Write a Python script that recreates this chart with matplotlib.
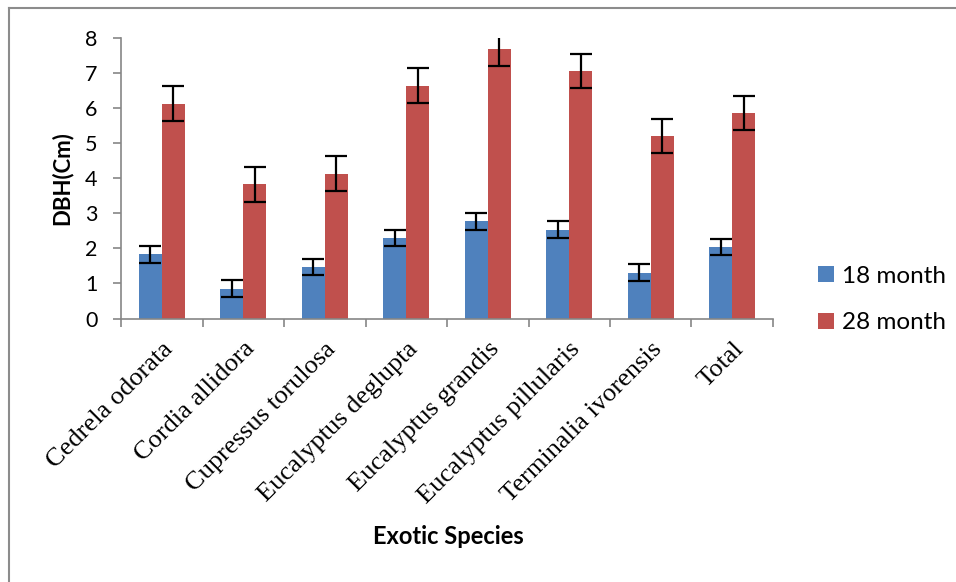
import numpy as np
import matplotlib.pyplot as plt
from matplotlib.lines import Line2D

# data
species = ["Cedrela odorata", "Cordia allidora", "Cupressus torulosa",
           "Eucalyptus deglupta", "Eucalyptus grandis", "Eucalyptus pillularis",
           "Terminalia ivorensis", "Total"]
dbh_18 = [1.83, 0.85, 1.47, 2.30, 2.78, 2.54, 1.31, 2.04]
err_18 = [0.24, 0.24, 0.24, 0.23, 0.24, 0.24, 0.25, 0.23]
dbh_28 = [6.13, 3.83, 4.13, 6.65, 7.69, 7.07, 5.22, 5.87]
err_28 = [0.50, 0.49, 0.50, 0.49, 0.49, 0.48, 0.49, 0.48]

blue = "#4F81BD"
red = "#C0504D"
grey = "#868686"
sans = ["Lato", "DejaVu Sans"]

fig = plt.figure(figsize=(9.56, 5.82), dpi=100)
ax = fig.add_axes([121 / 956, 1 - 318.5 / 582, (773 - 121) / 956, (318.5 - 38.3) / 582])

x = np.arange(len(species))
w = 0.285
ekw = dict(ecolor="black", elinewidth=1.6, capsize=8, capthick=1.6)
ax.bar(x - w / 2, dbh_18, w, color=blue, yerr=err_18, error_kw=ekw, label="18 month")
ax.bar(x + w / 2, dbh_28, w, color=red, yerr=err_28, error_kw=ekw, label="28 month")

ax.set_xlim(-0.5, len(species) - 0.5)
ax.set_ylim(0, 8)
ax.set_yticks(range(0, 9))
ax.tick_params(axis="y", length=6, color=grey, width=1.2, labelsize=15.5, pad=11)
for t in ax.get_yticklabels():
    t.set_fontfamily(sans)

ax.set_xticks(x)
ax.set_xticklabels(species, rotation=45, ha="right", rotation_mode="anchor",
                   fontfamily="Liberation Serif", fontsize=19)
ax.tick_params(axis="x", which="major", length=0, pad=14)
ax.set_xticks(np.arange(len(species) + 1) - 0.5, minor=True)
ax.tick_params(axis="x", which="minor", length=6, color=grey, width=1.2)

for s in ["top", "right"]:
    ax.spines[s].set_visible(False)
for s in ["left", "bottom"]:
    ax.spines[s].set_color(grey)
    ax.spines[s].set_linewidth(1.2)

ax.set_ylabel("DBH(Cm)", fontsize=16, fontweight="bold", fontfamily=sans, labelpad=9)
fig.text(448 / 956, 1 - 537 / 582, "Exotic Species", ha="center", va="center",
         fontsize=17, fontweight="bold", fontfamily=sans)

fig.legend(loc="upper left", bbox_to_anchor=(796 / 956, 1 - 244 / 582), frameon=False,
           prop={"family": sans, "size": 17.5}, handlelength=0.65, handleheight=0.65,
           handletextpad=0.35, labelspacing=1.05)

# outer chart frame
fig.add_artist(Line2D([9 / 956, 9 / 956], [0, 1 - 8 / 582], color="#8c8c8c", lw=1.5))
fig.add_artist(Line2D([9 / 956, 1], [1 - 8 / 582, 1 - 8 / 582], color="#8c8c8c", lw=1.5))

fig.savefig("out.png", dpi=100)
